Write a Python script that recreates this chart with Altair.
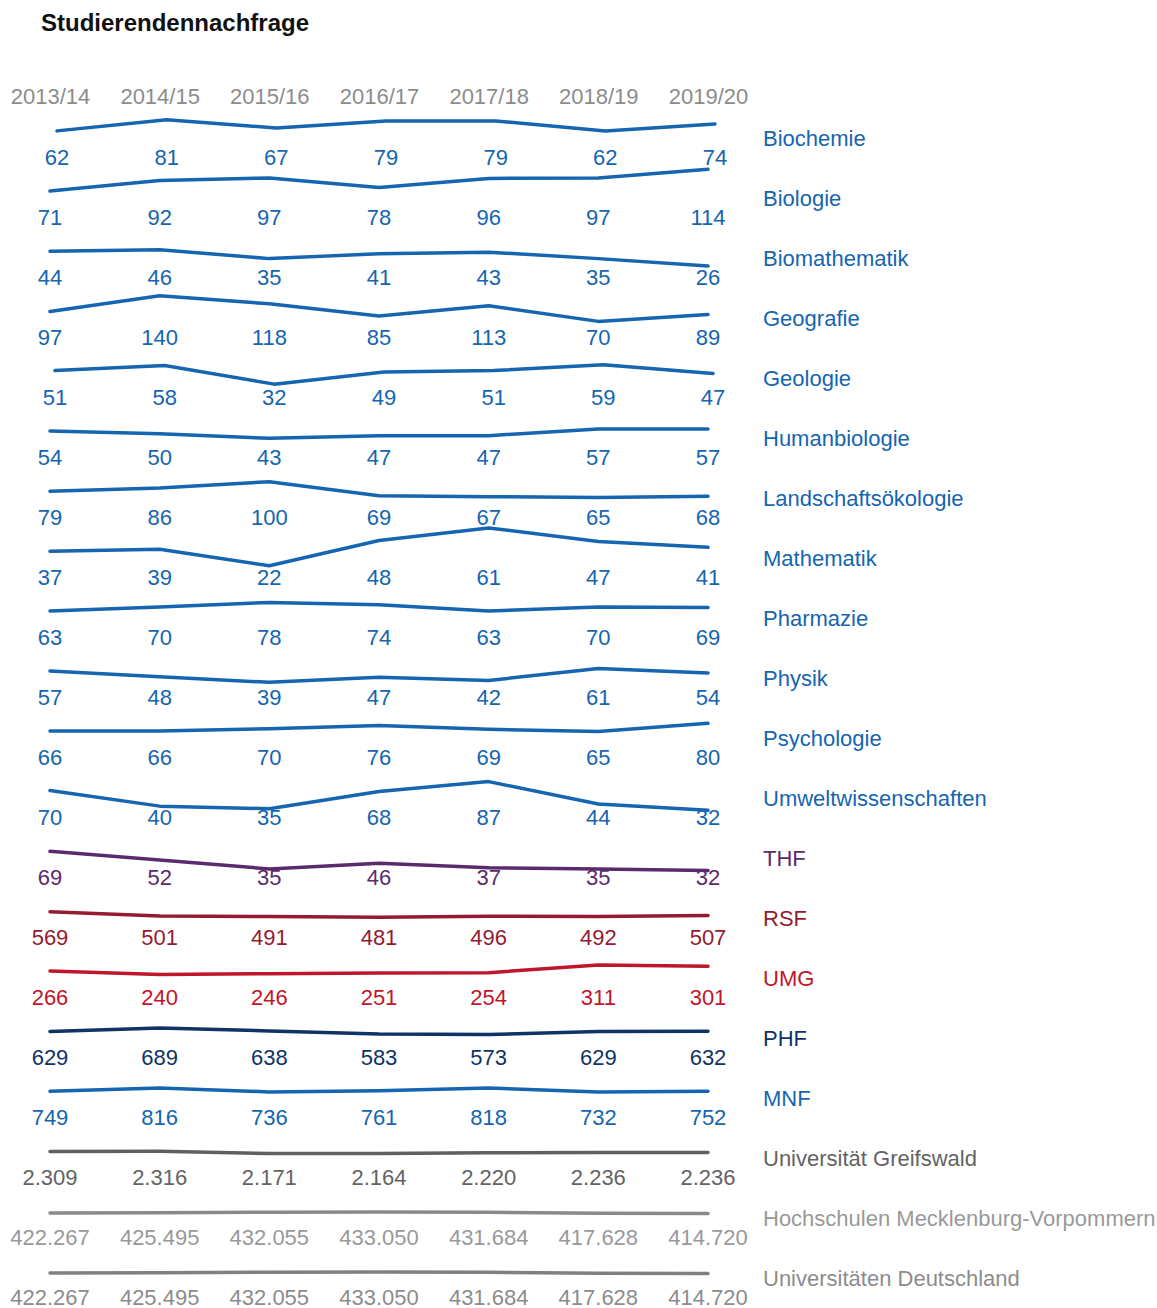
import altair as alt
import pandas as pd

YEARS = ["2013/14", "2014/15", "2015/16", "2016/17", "2017/18", "2018/19", "2019/20"]

biochemie = [62, 81, 67, 79, 79, 62, 74]
biologie = [71, 92, 97, 78, 96, 97, 114]
biomathematik = [44, 46, 35, 41, 43, 35, 26]
geografie = [97, 140, 118, 85, 113, 70, 89]
geologie = [51, 58, 32, 49, 51, 59, 47]
humanbiologie = [54, 50, 43, 47, 47, 57, 57]
landschaft = [79, 86, 100, 69, 67, 65, 68]
mathematik = [37, 39, 22, 48, 61, 47, 41]
pharmazie = [63, 70, 78, 74, 63, 70, 69]
physik = [57, 48, 39, 47, 42, 61, 54]
psychologie = [66, 66, 70, 76, 69, 65, 80]
umwelt = [70, 40, 35, 68, 87, 44, 32]
thf = [69, 52, 35, 46, 37, 35, 32]
rsf = [569, 501, 491, 481, 496, 492, 507]
umg = [266, 240, 246, 251, 254, 311, 301]
phf = [629, 689, 638, 583, 573, 629, 632]
mnf = [749, 816, 736, 761, 818, 732, 752]
greifswald = [2309, 2316, 2171, 2164, 2220, 2236, 2236]
hs_mv = [422267, 425495, 432055, 433050, 431684, 417628, 414720]
uni_de = [422267, 425495, 432055, 433050, 431684, 417628, 414720]

ROW_NAMES = [
    "Biochemie", "Biologie", "Biomathematik", "Geografie", "Geologie",
    "Humanbiologie", "Landschaftsökologie", "Mathematik", "Pharmazie",
    "Physik", "Psychologie", "Umweltwissenschaften", "THF", "RSF", "UMG",
    "PHF", "MNF", "Universität Greifswald",
    "Hochschulen Mecklenburg-Vorpommern", "Universitäten Deutschland",
]
ROW_VALUES = [
    biochemie, biologie, biomathematik, geografie, geologie, humanbiologie,
    landschaft, mathematik, pharmazie, physik, psychologie, umwelt, thf, rsf,
    umg, phf, mnf, greifswald, hs_mv, uni_de,
]

# --- styling (scale tops per row, colours, small horizontal shifts) ---
SCALE_TOP = [103, 118.5, 74, 164, 84, 90, 132.5, 62, 105, 95, 110, 115,
             116, 967, 444, 1060, 1258, 3890, 745000, 745000]
BLUE = "#1565b0"
LINE_COLORS = [BLUE] * 12 + ["#5b2a6e", "#951b30", "#c0162a", "#0f3366", BLUE,
                             "#606060", "#8a8a8a", "#808080"]
TEXT_COLORS = [BLUE] * 12 + ["#5b2a6e", "#951b30", "#c0162a", "#0f3366", BLUE,
                             "#636363", "#999999", "#8c8c8c"]
X_SHIFT = {"Biochemie": 7, "Geologie": 5}

FONT = "Liberation Sans"
W = 658
H = 60
FS = 22


def fmt(v):
    return f"{v:,}".replace(",", ".")


rows = []
for i, (name, vals) in enumerate(zip(ROW_NAMES, ROW_VALUES)):
    df = pd.DataFrame({"year": YEARS, "value": vals, "label": [fmt(v) for v in vals]})
    shift = X_SHIFT.get(name, 0)
    x = alt.X("year:O", sort=YEARS,
              scale=alt.Scale(type="point", padding=0, range=[shift, W + shift]),
              axis=None)
    y = alt.Y("value:Q", scale=alt.Scale(domain=[0, SCALE_TOP[i]], nice=False), axis=None)
    line = alt.Chart(df).mark_line(
        color=LINE_COLORS[i], strokeWidth=3.5, strokeCap="round", strokeJoin="round"
    ).encode(x=x, y=y)
    labels = alt.Chart(df).mark_text(
        color=TEXT_COLORS[i], font=FONT, fontSize=FS, align="center", baseline="alphabetic"
    ).encode(x=x, y=alt.value(57.7), text="label:N")
    title_txt = alt.Chart(pd.DataFrame({"name": [name]})).mark_text(
        color=TEXT_COLORS[i], font=FONT, fontSize=FS, align="left", baseline="alphabetic"
    ).encode(x=alt.value(713), y=alt.value(39.3), text="name:N")
    if i == 0:
        header = alt.Chart(pd.DataFrame({"year": YEARS})).mark_text(opacity=0, text=" ").encode(
            x=alt.X("year:O", sort=YEARS,
                    scale=alt.Scale(type="point", padding=0, range=[0, W]),
                    axis=alt.Axis(orient="top", title=None, ticks=False, tickSize=0,
                                  domain=False, grid=False, labelFont=FONT,
                                  labelFontSize=FS, labelColor="#8c8c8c", labelPadding=4,
                                  labelBaseline="alphabetic", labelAngle=0)),
            y=alt.value(0),
        )
        row = alt.layer(header, line, labels, title_txt).resolve_scale(x="independent")
    else:
        row = alt.layer(line, labels, title_txt)
    rows.append(row.properties(width=W, height=H))

chart = alt.vconcat(*rows, spacing=0, bounds="flush").properties(
    title=alt.TitleParams("Studierendennachfrage", anchor="start", frame="group",
                          font=FONT, fontSize=24, fontWeight="bold", color="#111111",
                          dx=-9, offset=49),
    padding={"left": 10, "top": 12, "right": 0, "bottom": 0},
).configure_view(stroke=None)

chart.save("out.html", embed_options={"renderer": "svg", "actions": False})
